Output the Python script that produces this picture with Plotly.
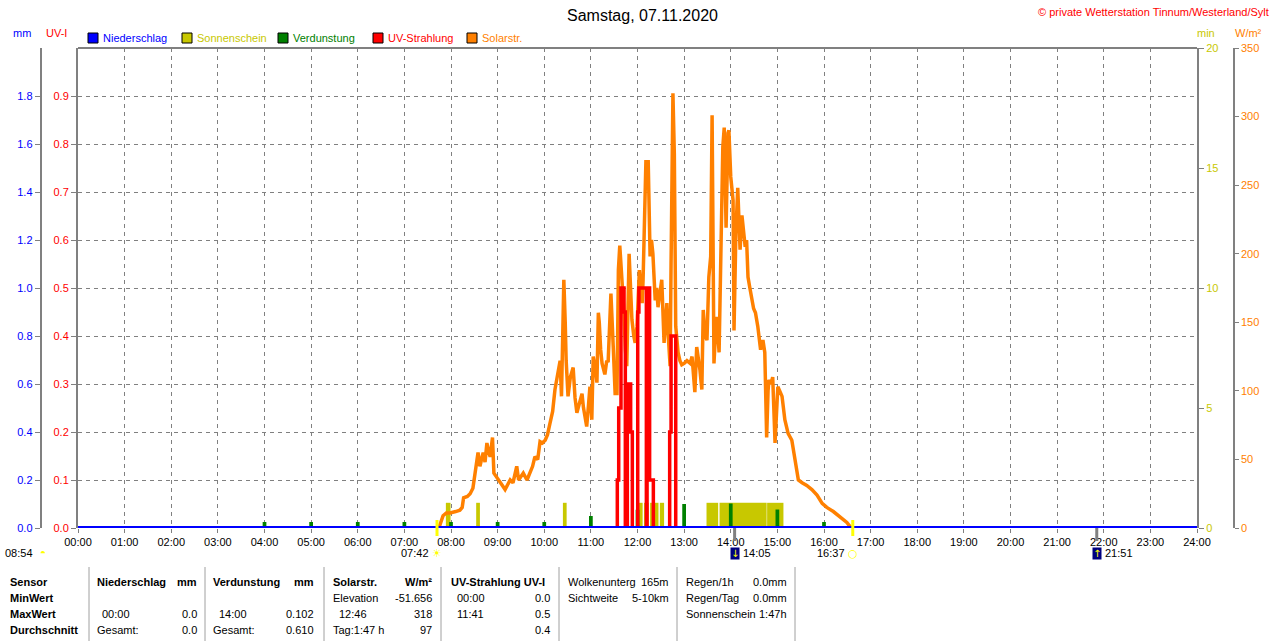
import plotly.graph_objects as go

W, H = 1280, 641
GRAY = "#808080"
FONT = "Liberation Sans"

# ---- values ----
hour_ticks = list(range(25))
hour_labels = ["%02d:00" % h for h in hour_ticks]

# Solarstrahlung (W/m2), time in hours
solar_t = [7.74, 7.76, 7.83, 7.90, 7.98,
           8.10, 8.19, 8.24, 8.27, 8.35, 8.41, 8.47, 8.51, 8.55, 8.58, 8.62, 8.66, 8.69, 8.73, 8.77, 8.81, 8.84, 8.89, 8.92, 8.96,
           9.01, 9.08, 9.16, 9.22, 9.27, 9.33, 9.41, 9.45, 9.50, 9.55, 9.63, 9.70, 9.75, 9.80, 9.86, 9.91, 9.96,
           10.02, 10.07, 10.12, 10.18, 10.23, 10.27, 10.30, 10.34, 10.37, 10.40, 10.42, 10.45, 10.47, 10.51, 10.56, 10.62, 10.66, 10.70, 10.76, 10.81, 10.84, 10.87, 10.91, 10.95, 10.98,
           11.02, 11.05, 11.10, 11.13, 11.16, 11.18, 11.21, 11.24, 11.30, 11.34, 11.37, 11.40, 11.43, 11.48, 11.52, 11.56, 11.59, 11.62, 11.67, 11.71, 11.74, 11.77, 11.82, 11.85, 11.88, 11.92, 11.95, 11.99,
           12.04, 12.07, 12.10, 12.12, 12.15, 12.18, 12.23, 12.25, 12.27, 12.30, 12.33, 12.38, 12.41, 12.44, 12.48, 12.52, 12.57, 12.60, 12.63, 12.66, 12.70, 12.72, 12.76, 12.79, 12.82, 12.87, 12.91, 12.95,
           13.00, 13.06, 13.13, 13.17, 13.23, 13.27, 13.30, 13.34, 13.38, 13.41, 13.45, 13.49, 13.53, 13.57, 13.60, 13.64, 13.67, 13.70, 13.75, 13.79, 13.83, 13.86, 13.90, 13.94, 13.96,
           14.00, 14.05, 14.07, 14.11, 14.15, 14.20, 14.24, 14.27, 14.31, 14.34, 14.37, 14.41, 14.45, 14.49, 14.53, 14.58, 14.64, 14.69, 14.73, 14.77, 14.80, 14.82, 14.86, 14.90, 14.95, 14.98,
           15.01, 15.05, 15.10, 15.16, 15.23, 15.31, 15.35, 15.38, 15.45, 15.53, 15.63, 15.74, 15.85, 15.96,
           16.06, 16.20, 16.34, 16.49, 16.56, 16.60]
solar_wm2 = [0, 2, 9, 11, 11,
             12, 13, 15, 22, 23, 25, 29, 40, 46, 55, 45, 52, 55, 48, 62, 55, 52, 66, 40, 38,
             35, 32, 28, 32, 35, 33, 45, 35, 38, 40, 35, 41, 45, 52, 50, 63, 62,
             64, 68, 76, 85, 101, 110, 115, 122, 96, 140, 181, 150, 122, 96, 110, 117, 95, 84, 92, 98, 88, 81, 74, 90, 103,
             79, 125, 115, 106, 157, 150, 130, 120, 112, 122, 121, 145, 171, 132, 98, 98, 188, 206, 181, 157, 130, 118, 200, 170, 152, 140, 135, 147,
             188, 175, 164, 181, 230, 267, 267, 230, 198, 210, 200, 166, 175, 161, 170, 181, 135, 150, 164, 140, 118, 193, 317, 273, 147, 128, 122, 119,
             120, 122, 120, 125, 99, 132, 125, 115, 101, 159, 140, 137, 183, 198, 301, 120, 140, 154, 128, 217, 278, 292, 219, 288, 290,
             256, 239, 144, 215, 248, 203, 228, 215, 205, 210, 183, 175, 166, 160, 157, 147, 130, 137, 128, 66, 100, 108, 105, 110, 62, 90,
             103, 100, 96, 79, 69, 64, 55, 50, 35, 33, 31, 28, 24, 18,
             15, 12, 8, 4, 1, 0]

# UV-Strahlung (UV-I), stepped
uv_t = [11.55, 11.567, 11.597, 11.646, 11.711, 11.739, 11.782, 11.803, 11.853, 11.889,
        12.005, 12.03, 12.19, 12.205, 12.26, 12.34, 12.69, 12.72, 12.82]
uv_idx = [0.0, 0.1, 0.25, 0.5, 0.45, 0.0, 0.2, 0.3, 0.2, 0.0,
          0.45, 0.5, 0.0, 0.5, 0.1, 0.0, 0.2, 0.4, 0.0]

# Sonnenschein (min) intervals
sun_from = [7.89, 8.54, 10.40, 12.00, 12.14, 12.27, 12.48, 12.68, 13.48, 13.76, 14.78]
sun_to = [7.99, 8.62, 10.48, 12.11, 12.24, 12.45, 12.57, 12.71, 13.73, 14.77, 15.13]
sun_min = [1.05, 1.05, 1.05, 1.05, 1.05, 1.05, 1.05, 1.05, 1.05, 1.05, 1.05]

# Verdunstung (mm), hourly
evap_t = [4, 5, 6, 7, 8, 9, 10, 11, 12, 13, 14, 15, 16]
evap_mm = [0.025, 0.025, 0.025, 0.025, 0.025, 0.025, 0.025, 0.05, 0.076, 0.1, 0.102, 0.077, 0.025]

# Niederschlag (mm)
rain_t = [0, 24]
rain_mm = [0.0, 0.0]

legend_names = ["Niederschlag", "Sonnenschein", "Verdunstung", "UV-Strahlung", "Solarstr."]
legend_colors = ["#0000ff", "#c8c800", "#008000", "#ff0000", "#ff8000"]

sun_events_t = [7.70, 16.617]
sun_events_lbl = ["07:42", "16:37"]
sun_events_icon = ["\u2600", "\u25cb"]
moon_events_t = [14.083, 21.85]
moon_events_lbl = ["14:05", "21:51"]
moon_events_icon = ["\u2193", "\u2191"]


def px(x):
    return x / W


def py(y):
    return 1 - y / H


fig = go.Figure()
# drawing order follows the axis order: y (min), y2 (mm), y3 (W/m2), y4 (UV), y5 (rain line)
fig.add_trace(go.Bar(x=[(a + b) / 2 for a, b in zip(sun_from, sun_to)],
                     width=[b - a for a, b in zip(sun_from, sun_to)],
                     y=sun_min, marker=dict(color="#c8c800", line=dict(width=0)), yaxis="y"))
fig.add_trace(go.Bar(x=evap_t, y=evap_mm, width=0.08,
                     marker=dict(color="#008000", line=dict(width=0)), yaxis="y2"))
fig.add_trace(go.Scatter(x=solar_t, y=solar_wm2, mode="lines",
                         line=dict(color="#ff8000", width=3.5), yaxis="y3"))
fig.add_trace(go.Scatter(x=uv_t, y=uv_idx, mode="lines",
                         line=dict(color="#ff0000", width=3.5, shape="hv"), yaxis="y4"))
fig.add_trace(go.Scatter(x=rain_t, y=rain_mm, mode="lines",
                         line=dict(color="#0000ff", width=4), yaxis="y5"))

tf = dict(family=FONT, size=11)
ydom = [py(528), py(48)]

fig.update_layout(
    width=W, height=H, autosize=False,
    margin=dict(l=0, r=0, t=0, b=0, autoexpand=False),
    paper_bgcolor="white", plot_bgcolor="white",
    showlegend=False, barmode="overlay",
    xaxis=dict(domain=[px(78), px(1197)], range=[0, 24], tickvals=hour_ticks, ticktext=hour_labels,
               tickfont=dict(tf, color="black"), ticks="outside", ticklen=4, tickcolor=GRAY,
               showgrid=True, gridcolor=GRAY, griddash="4px,4px", gridwidth=1,
               showline=False, zeroline=False, fixedrange=True),
    yaxis=dict(domain=ydom, side="right", anchor="x", range=[0, 20], tickvals=[0, 5, 10, 15, 20],
               tickfont=dict(tf, color="#c8c800"), ticks="outside", ticklen=5, tickcolor=GRAY,
               showgrid=False, showline=True, linecolor=GRAY, linewidth=2, zeroline=False),
    yaxis2=dict(overlaying="y", side="left", anchor="free", position=px(40.5), range=[0, 2.0],
                tickvals=[i / 5 for i in range(10)], ticktext=["%.1f" % (i / 5) for i in range(10)],
                tickfont=dict(tf, color="#0000ff"), ticks="outside", ticklen=5, tickcolor=GRAY,
                showgrid=False, showline=True, linecolor=GRAY, linewidth=1.5, zeroline=False),
    yaxis3=dict(overlaying="y", side="right", anchor="free", position=px(1234), range=[0, 350],
                tickvals=list(range(0, 351, 50)), tickfont=dict(tf, color="#ff8000"),
                ticks="outside", ticklen=4, tickcolor=GRAY,
                showgrid=False, showline=True, linecolor=GRAY, linewidth=1.5, zeroline=False),
    yaxis4=dict(overlaying="y", side="left", anchor="x", range=[0, 1.0], tickvals=[i / 10 for i in range(10)],
                ticktext=["%.1f" % (i / 10) for i in range(10)], tickfont=dict(tf, color="#ff0000"),
                ticks="outside", ticklen=5, tickcolor=GRAY,
                showgrid=True, gridcolor=GRAY, griddash="4px,4px", gridwidth=1,
                showline=True, linecolor=GRAY, linewidth=2, zeroline=False),
    yaxis5=dict(overlaying="y", range=[0, 2.0], visible=False),
)

ann = []
shapes = []


def text(x, y, s, color="black", size=11, anchor="left", bold=False):
    if bold:
        s = "<b>" + s + "</b>"
    ann.append(dict(x=px(x), y=py(y), xref="paper", yref="paper", text=s, showarrow=False,
                    xanchor=anchor, yanchor="middle", font=dict(family=FONT, size=size, color=color)))


# top border of the plot box
shapes.append(dict(type="line", xref="x domain", yref="y domain", x0=0, x1=1, y0=1, y1=1,
                   line=dict(color=GRAY, width=2)))

# title, copyright, axis headers
text(642, 15, "Samstag, 07.11.2020", size=16, anchor="center")
text(1271, 12, "\u00a9 private Wetterstation Tinnum/Westerland/Sylt", color="#ff0000", anchor="right")
text(22, 33, "mm", color="#0000ff", anchor="center")
text(56, 33, "UV-I", color="#ff0000", anchor="center")
text(1206, 33, "min", color="#c8c800", anchor="center")
text(1248, 33, "W/m\u00b2", color="#ff8000", anchor="center")

# legend
legend_x = [88, 182, 278, 373, 467]
for lx, name, col in zip(legend_x, legend_names, legend_colors):
    shapes.append(dict(type="rect", xref="paper", yref="paper", x0=px(lx), x1=px(lx + 10),
                       y0=py(43), y1=py(33), fillcolor=col, line=dict(color="black", width=1)))
    text(lx + 13, 38, name, color=col)

# sunrise / sunset and moon events below the time axis
text(35, 553, "08:54", anchor="right")
text(43, 552, "\u25d3", color="#ffff00", size=10, anchor="center")
for t, lbl, icon in zip(sun_events_t, sun_events_lbl, sun_events_icon):
    shapes.append(dict(type="line", xref="x", yref="paper", x0=t, x1=t, y0=py(520), y1=py(536),
                       line=dict(color="#ffff00", width=3)))
    ann.append(dict(x=t, y=py(553), xref="x", yref="paper", text=icon, showarrow=False,
                    xanchor="center", yanchor="middle", font=dict(family="DejaVu Sans", size=11, color="#ffff00")))
    ann.append(dict(x=t, y=py(553), xref="x", yref="paper", text=lbl, showarrow=False, xshift=-6,
                    xanchor="right", yanchor="middle", font=dict(family=FONT, size=11, color="black")))
for t, lbl, icon in zip(moon_events_t, moon_events_lbl, moon_events_icon):
    shapes.append(dict(type="line", xref="x", yref="paper", x0=t, x1=t, y0=py(528), y1=py(541),
                       line=dict(color=GRAY, width=3)))
    ann.append(dict(x=t, y=py(553), xref="x", yref="paper", text=icon, showarrow=False,
                    bgcolor="#000080", borderpad=0, xanchor="center", yanchor="middle",
                    font=dict(family="DejaVu Sans", size=10, color="#ffff00")))
    ann.append(dict(x=t, y=py(553), xref="x", yref="paper", text=lbl, showarrow=False, xshift=6,
                    xanchor="left", yanchor="middle", font=dict(family=FONT, size=11, color="black")))

# summary table
rows = [582, 598, 614, 630]
for sx in [89, 205, 324, 441, 559, 677, 795]:
    shapes.append(dict(type="line", xref="paper", yref="paper", x0=px(sx), x1=px(sx),
                       y0=py(567), y1=py(641), line=dict(color="#a0a0a0", width=1)))

for i, s in enumerate(["Sensor", "MinWert", "MaxWert", "Durchschnitt"]):
    text(8, rows[i], s, bold=True)

text(95, rows[0], "Niederschlag", bold=True)
text(199, rows[0], "mm", anchor="right", bold=True)
text(100, rows[2], "00:00")
text(199, rows[2], "0.0", anchor="right")
text(95, rows[3], "Gesamt:")
text(199, rows[3], "0.0", anchor="right")

text(211, rows[0], "Verdunstung", bold=True)
text(316, rows[0], "mm", anchor="right", bold=True)
text(217, rows[2], "14:00")
text(316, rows[2], "0.102", anchor="right")
text(211, rows[3], "Gesamt:")
text(316, rows[3], "0.610", anchor="right")

text(331, rows[0], "Solarstr.", bold=True)
text(434, rows[0], "W/m\u00b2", anchor="right", bold=True)
text(331, rows[1], "Elevation")
text(434, rows[1], "-51.656", anchor="right")
text(337, rows[2], "12:46")
text(434, rows[2], "318", anchor="right")
text(331, rows[3], "Tag:1:47 h")
text(434, rows[3], "97", anchor="right")

text(449, rows[0], "UV-Strahlung UV-I", bold=True)
text(455, rows[1], "00:00")
text(552, rows[1], "0.0", anchor="right")
text(455, rows[2], "11:41")
text(552, rows[2], "0.5", anchor="right")
text(552, rows[3], "0.4", anchor="right")

text(566, rows[0], "Wolkenunterg")
text(671, rows[0], "165m", anchor="right")
text(566, rows[1], "Sichtweite")
text(671, rows[1], "5-10km", anchor="right")

text(684, rows[0], "Regen/1h")
text(789, rows[0], "0.0mm", anchor="right")
text(684, rows[1], "Regen/Tag")
text(789, rows[1], "0.0mm", anchor="right")
text(684, rows[2], "Sonnenschein")
text(789, rows[2], "1:47h", anchor="right")

fig.update_layout(annotations=ann, shapes=shapes)
# the page's default body margin would shift the 1280x641 figure
fig.write_html("out.html", config={"displayModeBar": False},
               post_script="document.body.style.margin = '0px';")
